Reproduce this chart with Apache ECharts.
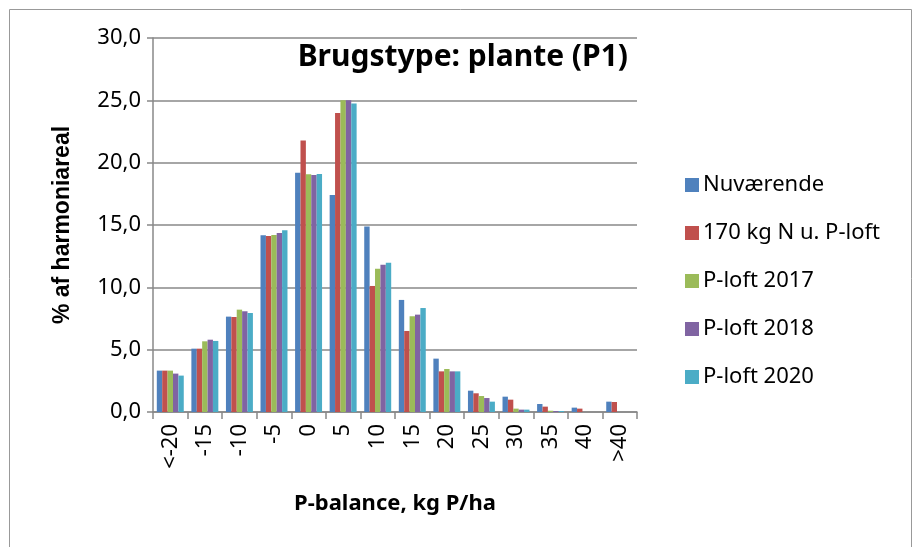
<!DOCTYPE html>
<html><head><meta charset="utf-8">
<script src="https://cdn.jsdelivr.net/npm/echarts@6/dist/echarts.min.js"></script>
<style>html,body{margin:0;padding:0;background:#fff}#c{width:914px;height:547px}</style>
</head><body><div id="c"></div>
<script>
const categories = ['<-20','-15','-10','-5','0','5','10','15','20','25','30','35','40','>40'];
const seriesNames = ['Nuværende','170 kg N u. P-loft','P-loft 2017','P-loft 2018','P-loft 2020'];
const nuvaerende = [3.32,5.08,7.65,14.17,19.2,17.41,14.87,8.99,4.28,1.71,1.23,0.64,0.35,0.83];
const kg170      = [3.32,5.08,7.62,14.12,21.77,23.99,10.11,6.5,3.26,1.5,0.99,0.43,0.27,0.8];
const ploft2017  = [3.32,5.67,8.21,14.2,19.07,25.0,11.5,7.68,3.45,1.28,0.27,0.1,0,0];
const ploft2018  = [3.08,5.8,8.08,14.36,19.02,25.0,11.82,7.81,3.26,1.12,0.19,0.08,0,0];
const ploft2020  = [2.92,5.7,7.94,14.58,19.1,24.74,11.98,8.34,3.26,0.83,0.19,0.08,0,0];
const colors = ['#4F81BD','#C0504D','#9BBB59','#8064A2','#4BACC6'];
const yTicks = {min:0,max:30,interval:5};

const seriesData = [nuvaerende,kg170,ploft2017,ploft2018,ploft2020];
const chart = echarts.init(document.getElementById('c'));
const font = '"Noto Sans", sans-serif';
chart.setOption({
  animation:false,
  color:colors,
  title:{text:'Brugstype: plante (P1)',right:281,top:37,
    textStyle:{fontFamily:font,fontWeight:'bold',fontSize:30,color:'#000'}},
  graphic:[{type:'rect',shape:{x:9.5,y:9.5,width:902,height:600},
    style:{fill:'none',stroke:'#999',lineWidth:1}}],
  legend:{orient:'vertical',left:680,top:169,itemWidth:14,itemHeight:14,itemGap:26,
    icon:'rect',data:seriesNames,
    textStyle:{fontFamily:font,fontSize:22,color:'#000',padding:[0,0,0,-1]}},
  grid:{left:153,right:277,top:38,bottom:135,containLabel:false},
  xAxis:{type:'category',data:categories,
    name:'P-balance, kg P/ha',nameLocation:'middle',nameGap:81,
    nameTextStyle:{fontFamily:font,fontWeight:'bold',fontSize:22,color:'#000'},
    axisLine:{lineStyle:{color:'#888',width:1.5}},
    axisTick:{show:true,interval:0,length:7,lineStyle:{color:'#888',width:1.5}},
    axisLabel:{rotate:90,interval:0,fontFamily:font,fontSize:22,color:'#000',margin:12}},
  yAxis:{type:'value',min:yTicks.min,max:yTicks.max,interval:yTicks.interval,
    name:'% af harmoniareal',nameLocation:'middle',nameGap:79,
    nameTextStyle:{fontFamily:'"Liberation Sans", Arial, sans-serif',fontWeight:'bold',fontSize:23,color:'#000'},
    axisLine:{show:true,lineStyle:{color:'#888',width:1.5}},
    axisTick:{show:true,length:6,lineStyle:{color:'#888',width:1.5}},
    splitLine:{lineStyle:{color:'#888',width:1.5}},
    axisLabel:{fontFamily:font,fontSize:22,color:'#000',margin:12,
      formatter:v=>v.toFixed(1).replace('.',',')}},
  series:seriesNames.map((n,i)=>({name:n,type:'bar',data:seriesData[i],
    barGap:'0%',barCategoryGap:'22%',itemStyle:{color:colors[i]}}))
});
</script></body></html>
